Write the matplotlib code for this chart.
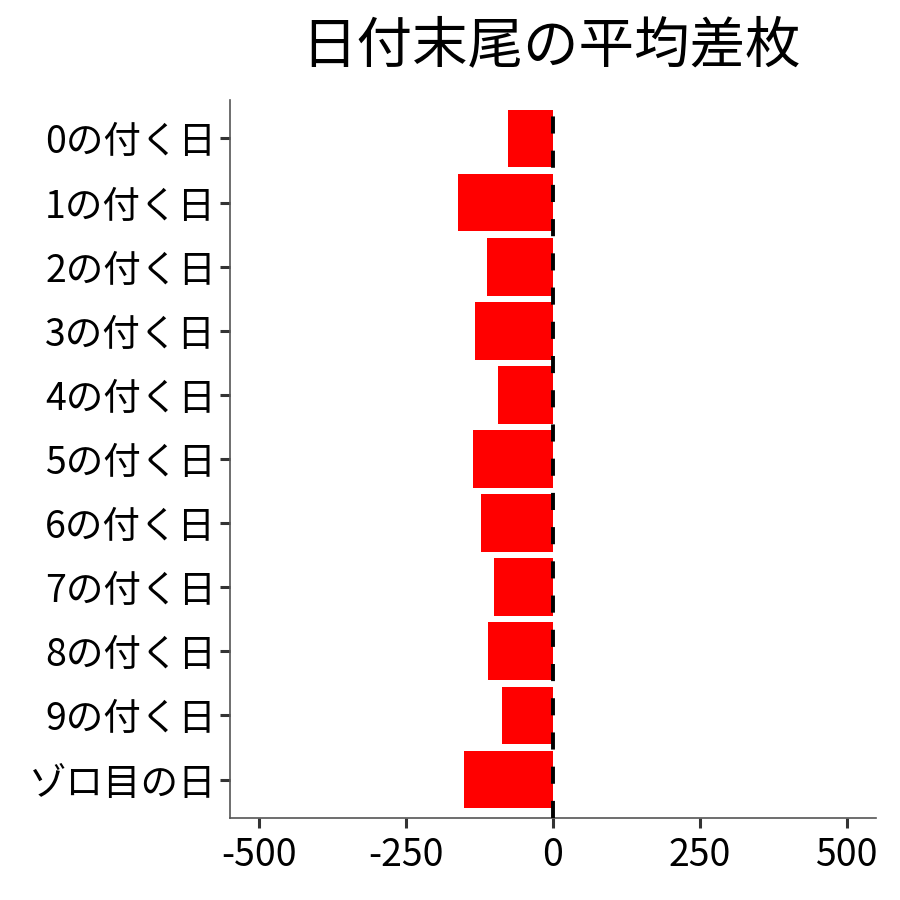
import matplotlib
matplotlib.use("Agg")
import matplotlib.pyplot as plt

plt.rcParams['font.family'] = ['Noto Sans CJK JP', 'DejaVu Sans']

# 平均差枚
labels = ['0の付く日', '1の付く日', '2の付く日', '3の付く日', '4の付く日',
          '5の付く日', '6の付く日', '7の付く日', '8の付く日', '9の付く日', 'ゾロ目の日']
values = [-77, -161, -113, -132, -93, -136, -123, -101, -110, -86, -152]
xticks = [-500, -250, 0, 250, 500]


def main():
    fig = plt.figure(figsize=(9, 9), dpi=100)
    ax = fig.add_axes([230 / 900, 82 / 900, 646 / 900, 718 / 900])

    ypos = list(range(len(labels)))
    ax.barh(ypos, values, height=0.9, color='#ff0000', linewidth=0, zorder=2)
    ax.axvline(0, color='black', lw=2.8, linestyle=(0, (4.4, 4.4)), zorder=3)

    ax.set_xlim(-550, 550)
    ax.set_ylim(len(labels) - 0.4, -0.6)
    ax.set_yticks(ypos)
    ax.set_yticklabels(labels)
    ax.set_xticks(xticks)
    ax.set_xticklabels([str(v) for v in xticks])

    ax.tick_params(axis='both', labelsize=27, colors='#333333', labelcolor='black',
                   length=7, width=2.2, pad=3)
    ax.tick_params(axis='x', pad=6)
    for side in ['top', 'right']:
        ax.spines[side].set_visible(False)
    for side in ['left', 'bottom']:
        ax.spines[side].set_color('#555555')
        ax.spines[side].set_linewidth(1.2)

    fig.text(551 / 900, 1 - 46 / 900, '日付末尾の平均差枚', ha='center', va='center',
             fontsize=40)

    fig.savefig('out.png', dpi=100, facecolor='white')


if __name__ == '__main__':
    main()
